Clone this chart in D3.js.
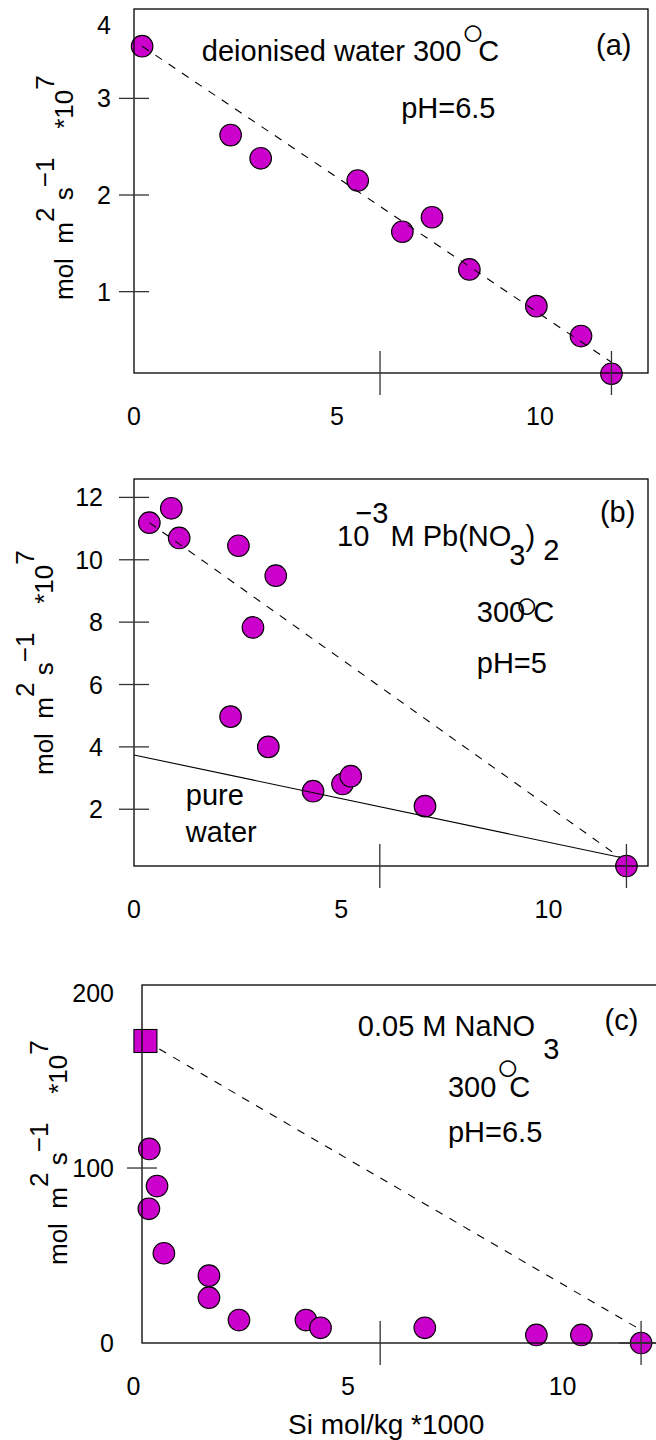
<!DOCTYPE html>
<html>
<head>
<meta charset="utf-8">
<script src="https://cdn.jsdelivr.net/npm/d3@7"></script>
<style>
  body { margin: 0; background: #fff; }
  text { font-family: "Liberation Sans", Arial, Helvetica, sans-serif; fill: #000; white-space: pre; }
</style>
</head>
<body>
<svg id="chart" width="656" height="1440"></svg>
<script>

// ---- data (Si mol/kg *1000 vs rate mol m^2 s^-1 *10^7) ----

// (a) deionised water
const siA   = [0.20, 2.38, 3.12, 5.51, 6.61, 7.34, 8.26, 9.91, 11.01, 11.76];
const rateA = [3.54, 2.62, 2.38, 2.15, 1.62, 1.77, 1.23, 0.85, 0.54, 0.15];
const fitA  = [[0.20, 3.54], [11.76, 0.27]];

// (b) 10^-3 M Pb(NO3)2
const siB   = [0.37, 0.90, 1.09, 2.52, 3.42, 2.87, 2.33, 3.24, 4.32, 5.03, 5.23, 7.02, 11.88];
const rateB = [11.19, 11.65, 10.70, 10.45, 9.49, 7.83, 4.97, 4.00, 2.58, 2.81, 3.06, 2.10, 0.18];
const fitB  = [[0.37, 11.19], [11.72, 0.46]];
const pureB = [[0, 3.74], [11.72, 0.46]];

// (c) 0.05 M NaNO3
const siC   = [0.37, 0.55, 0.36, 0.71, 1.76, 1.76, 2.46, 4.02, 4.36, 6.79, 9.39, 10.44, 11.83];
const rateC = [110.9, 89.7, 76.7, 51.3, 38.5, 25.9, 13.1, 13.1, 8.7, 8.7, 4.6, 4.6, 0];
const squareC = [[0.28, 172.6]];
const fitC  = [[0.28, 172.6], [11.83, 7.4]];

// tick values
const xLabels = [0, 5, 10];
const yTicksA = [1, 2, 3];
const yTicksB = [2, 4, 6, 8, 10, 12];
const yTicksC = [100];
const yLabelsC = [0, 100, 200];

const svg = d3.select("#chart");
const magenta = "#cc00cc";
const noteSize = 29;

function rich(sel, parts, fs) {
  // writes sub/superscripts as tspans
  let cur = 0;
  parts.forEach(p => {
    const off = p.sup ? -(p.shift || 0.5) * fs : p.sub ? (p.shift || 0.4) * fs : 0;
    sel.append("tspan")
      .attr("dy", off - cur)
      .attr("dx", p.dx || 0)
      .style("font-size", (p.size || fs) + "px")
      .text(p.t);
    cur = off;
  });
}

function panel(cfg) {
  const x = d3.scaleLinear().domain(cfg.xDomain).range([cfg.left, cfg.right]);
  const y = d3.scaleLinear().domain(cfg.yDomain).range([cfg.bottom, cfg.top]);
  const g = svg.append("g");

  // points
  g.selectAll("circle.pt")
    .data(cfg.si.map((d, i) => [d, cfg.rate[i]]))
    .join("circle")
    .attr("class", "pt")
    .attr("cx", d => x(d[0]))
    .attr("cy", d => y(d[1]))
    .attr("r", 10.8)
    .attr("fill", magenta)
    .attr("stroke", "#000")
    .attr("stroke-width", 1.1);

  // lines
  const line = d3.line().x(d => x(d[0])).y(d => y(d[1]));
  cfg.lines.forEach(l => {
    g.append("path")
      .attr("d", line(l.pts))
      .attr("fill", "none")
      .attr("stroke", "#000")
      .attr("stroke-width", 1.1)
      .attr("stroke-dasharray", l.dash ? "8,8" : null);
  });

  if (cfg.squares) {
    g.selectAll("rect.sq")
      .data(cfg.squares)
      .join("rect")
      .attr("class", "sq")
      .attr("x", d => x(d[0]) - 11.5)
      .attr("y", d => y(d[1]) - 11.5)
      .attr("width", 23)
      .attr("height", 23)
      .attr("fill", magenta)
      .attr("stroke", "#000")
      .attr("stroke-width", 1.1);
  }

  // frame
  g.append("rect")
    .attr("x", cfg.left).attr("y", cfg.top)
    .attr("width", cfg.right - cfg.left).attr("height", cfg.bottom - cfg.top)
    .attr("fill", "none").attr("stroke", "#000").attr("stroke-width", 1.3);

  // y ticks crossing the axis
  g.selectAll("line.yt")
    .data(cfg.yTicks)
    .join("line")
    .attr("class", "yt")
    .attr("x1", cfg.left - 15).attr("x2", cfg.left + 15)
    .attr("y1", d => y(d)).attr("y2", d => y(d))
    .attr("stroke", "#333").attr("stroke-width", 1.3);

  g.selectAll("text.yl")
    .data(cfg.yLabels)
    .join("text")
    .attr("class", "yl")
    .attr("x", cfg.yLabelX)
    .attr("y", d => y(d.at))
    .attr("dy", "0.36em")
    .attr("text-anchor", "end")
    .style("font-size", "25px")
    .text(d => d.text);

  // x ticks crossing the axis
  g.selectAll("line.xt")
    .data(cfg.xTicks)
    .join("line")
    .attr("class", "xt")
    .attr("x1", d => x(d)).attr("x2", d => x(d))
    .attr("y1", cfg.bottom - 22).attr("y2", cfg.bottom + 22)
    .attr("stroke", "#333").attr("stroke-width", 1.3);

  g.selectAll("text.xl")
    .data(xLabels)
    .join("text")
    .attr("class", "xl")
    .attr("x", d => x(d))
    .attr("y", cfg.bottom + 43)
    .attr("dy", "0.36em")
    .attr("text-anchor", "middle")
    .style("font-size", "25px")
    .text(d => d);

  // y title
  const t = g.append("text")
    .attr("transform", `translate(${cfg.titleX},${cfg.titleY}) rotate(-90)`)
    .style("font-size", "26px");
  rich(t, [
    { t: "mol  m" }, { t: "2", sup: true, shift: 0.75 }, { t: " s" },
    { t: "\u22121", sup: true, shift: 0.75 }, { t: "    *10" }, { t: "7", sup: true, shift: 0.75 }
  ], 26);

  // annotations
  cfg.notes.forEach(n => {
    const tx = g.append("text")
      .attr("x", x(n.at[0]))
      .attr("y", y(n.at[1]))
      .style("font-size", noteSize + "px");
    rich(tx, n.parts, noteSize);
  });
  return { x, y };
}

// (a)
panel({
  left: 134, right: 648, top: 9, bottom: 373,
  xDomain: [0, 12.66], yDomain: [0.158, 3.925],
  si: siA, rate: rateA,
  lines: [{ pts: fitA, dash: true }],
  yTicks: yTicksA,
  yLabels: yTicksA.map(v => ({ at: v, text: v })).concat([{ at: 3.76, text: "4" }]),
  yLabelX: 111,
  xTicks: [6.06, 11.76],
  titleX: 73, titleY: 300,
  notes: [
    { at: [1.67, 3.39], parts: [{ t: "deionised water 300" }, { t: "\u25CB", sup: true, shift: 0.53, size: 38, dx: 0 }, { t: "C", dx: -6 }] },
    { at: [11.38, 3.45], parts: [{ t: "(a)" }] },
    { at: [6.58, 2.80], parts: [{ t: "pH=6.5" }] }
  ]
});

// (b)
panel({
  left: 134, right: 648, top: 479, bottom: 866,
  xDomain: [0, 12.4], yDomain: [0.18, 12.59],
  si: siB, rate: rateB,
  lines: [{ pts: fitB, dash: true }, { pts: pureB, dash: false }],
  yTicks: yTicksB,
  yLabels: yTicksB.map(v => ({ at: v, text: v })),
  yLabelX: 103,
  xTicks: [5.93, 11.88],
  titleX: 53, titleY: 775,
  notes: [
    { at: [4.90, 10.45], parts: [{ t: "10" }, { t: "\u22123", sup: true, shift: 0.8, dx: -14 }, { t: "M Pb(NO", dx: 2 }, { t: "3", sub: true, shift: 0.65, dx: -2 }, { t: ")" }, { t: " 2", sub: true, shift: 0.48 }] },
    { at: [11.24, 11.21], parts: [{ t: "(b)" }] },
    { at: [8.27, 7.99], parts: [{ t: "300" }, { t: "\u25CB", sup: true, shift: 0.15, size: 38, dx: -10 }, { t: "C", dx: -5 }] },
    { at: [8.27, 6.37], parts: [{ t: "pH=5" }] },
    { at: [1.25, 2.14], parts: [{ t: "pure" }] },
    { at: [1.25, 0.96], parts: [{ t: "water" }] }
  ]
});

// (c)
const pc = panel({
  left: 142, right: 690, top: 985, bottom: 1343,
  xDomain: [0.2, 12.97], yDomain: [0, 204.6],
  si: siC, rate: rateC,
  squares: squareC,
  lines: [{ pts: fitC, dash: true }],
  yTicks: yTicksC,
  yLabels: yLabelsC.map(v => ({ at: v, text: v })),
  yLabelX: 114,
  xTicks: [5.75, 11.83],
  titleX: 67, titleY: 1265,
  notes: [
    { at: [5.23, 175.4], parts: [{ t: "0.05 M NaNO" }, { t: "3", sub: true, shift: 0.8, dx: 8 }] },
    { at: [10.98, 178.9], parts: [{ t: "(c)" }] },
    { at: [7.33, 140.7], parts: [{ t: "300" }, { t: "\u25CB", sup: true, shift: 0.57, size: 38, dx: 0 }, { t: "C", dx: -10 }] },
    { at: [7.33, 115], parts: [{ t: "pH=6.5" }] }
  ]
});

// crosshair on the last point of (c)
svg.append("line")
  .attr("x1", pc.x(11.83) - 22).attr("x2", pc.x(11.83) + 22)
  .attr("y1", pc.y(0)).attr("y2", pc.y(0))
  .attr("stroke", "#333").attr("stroke-width", 1.3);

// x title
svg.append("text")
  .attr("x", pc.x(5.89))
  .attr("y", 1434)
  .attr("text-anchor", "middle")
  .style("font-size", "28px")
  .text("Si mol/kg *1000");

</script>
</body>
</html>
